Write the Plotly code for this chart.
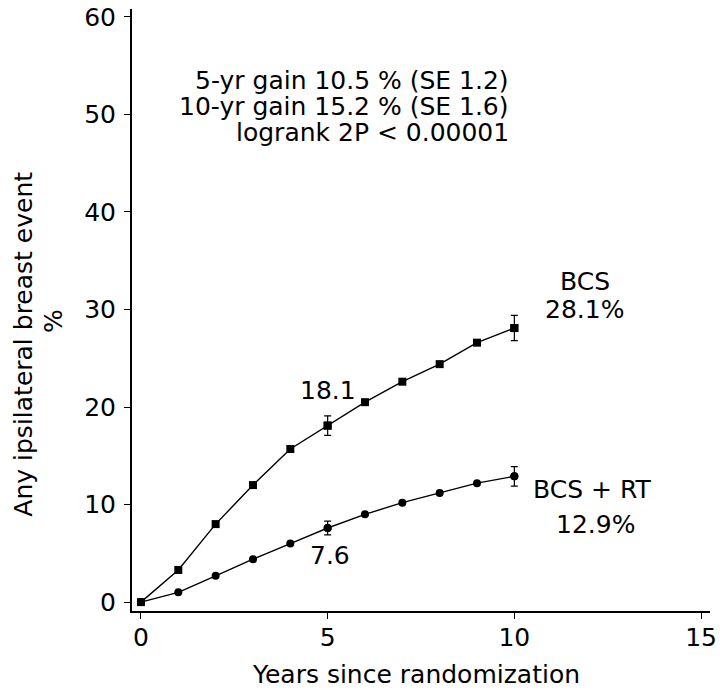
import plotly.graph_objects as go

years = [0, 1, 2, 3, 4, 5, 6, 7, 8, 9, 10]
bcs = [0, 3.3, 8.0, 12.0, 15.7, 18.1, 20.5, 22.6, 24.4, 26.6, 28.1]
bcs_rt = [0, 1.0, 2.7, 4.4, 6.0, 7.6, 9.0, 10.2, 11.2, 12.2, 12.9]
err_years = [5, 10]
bcs_err = [1.0, 1.3]
bcs_rt_err = [0.7, 1.0]
x_ticks = [0, 5, 10, 15]
y_ticks = [0, 10, 20, 30, 40, 50, 60]

FONT = "DejaVu Sans, Liberation Sans, Arial, sans-serif"
FS = 25

fig = go.Figure()

def err_at(series, yrs):
    return [series[years.index(y)] for y in yrs]

fig.add_trace(go.Scatter(x=years, y=bcs, mode="lines+markers",
                         line=dict(color="black", width=1.4),
                         marker=dict(symbol="square", size=8, color="black"),
                         showlegend=False, hoverinfo="skip"))
fig.add_trace(go.Scatter(x=years, y=bcs_rt, mode="lines+markers",
                         line=dict(color="black", width=1.4),
                         marker=dict(symbol="circle", size=8, color="black"),
                         showlegend=False, hoverinfo="skip"))
fig.add_trace(go.Scatter(x=err_years, y=err_at(bcs, err_years), mode="markers",
                         marker=dict(symbol="square", size=8, color="black"),
                         error_y=dict(type="data", array=bcs_err, color="black",
                                      thickness=1.2, width=3.5),
                         showlegend=False, hoverinfo="skip"))
fig.add_trace(go.Scatter(x=err_years, y=err_at(bcs_rt, err_years), mode="markers",
                         marker=dict(symbol="circle", size=8, color="black"),
                         error_y=dict(type="data", array=bcs_rt_err, color="black",
                                      thickness=1.2, width=3.5),
                         showlegend=False, hoverinfo="skip"))

ann_font = dict(family=FONT, size=FS, color="black")
annotations = [
    dict(x=9.92, y=53.5, text="5-yr gain 10.5 % (SE 1.2)", xanchor="right"),
    dict(x=9.92, y=50.8, text="10-yr gain 15.2 % (SE 1.6)", xanchor="right"),
    dict(x=9.92, y=48.1, text="logrank 2P < 0.00001", xanchor="right"),
    dict(x=11.89, y=32.9, text="BCS", xanchor="center"),
    dict(x=11.89, y=30.05, text="28.1%", xanchor="center"),
    dict(x=12.07, y=11.55, text="BCS + RT", xanchor="center"),
    dict(x=12.18, y=7.95, text="12.9%", xanchor="center"),
    dict(x=5.0, y=21.65, text="18.1", xanchor="center"),
    dict(x=5.05, y=4.75, text="7.6", xanchor="center"),
]
for a in annotations:
    a.update(xref="x", yref="y", yanchor="middle", showarrow=False, font=ann_font)

annotations += [
    dict(x=-0.188, y=0.443, xref="paper", yref="paper", text="Any ipsilateral breast event",
         textangle=-90, showarrow=False, xanchor="center", yanchor="middle", font=ann_font),
    dict(x=-0.1345, y=0.482, xref="paper", yref="paper", text="%",
         textangle=-90, showarrow=False, xanchor="center", yanchor="middle", font=ann_font),
    dict(x=0.491, y=-0.105, xref="paper", yref="paper", text="Years since randomization",
         showarrow=False, xanchor="center", yanchor="middle", font=ann_font),
]

axis_common = dict(showline=True, linecolor="black", linewidth=2, ticks="outside",
                   ticklen=6, tickwidth=1, tickcolor="black", showgrid=False,
                   zeroline=False, ticklabeloverflow="allow",
                   tickfont=dict(family=FONT, size=FS, color="black"))

fig.update_layout(
    width=720, height=690,
    margin=dict(l=132, r=7, t=3, b=79),
    paper_bgcolor="white", plot_bgcolor="white",
    xaxis=dict(range=[-0.24, 15.24], tickvals=x_ticks, ticklabelstandoff=-3, **axis_common),
    yaxis=dict(range=[-0.91, 60.81], tickvals=y_ticks, ticklabelstandoff=3, **axis_common),
    annotations=annotations,
    font=dict(family=FONT, size=FS, color="black"),
)

fig.write_html("out.html", config={"displayModeBar": False},
               post_script="document.body.style.margin='0px';document.body.style.padding='0px';")
